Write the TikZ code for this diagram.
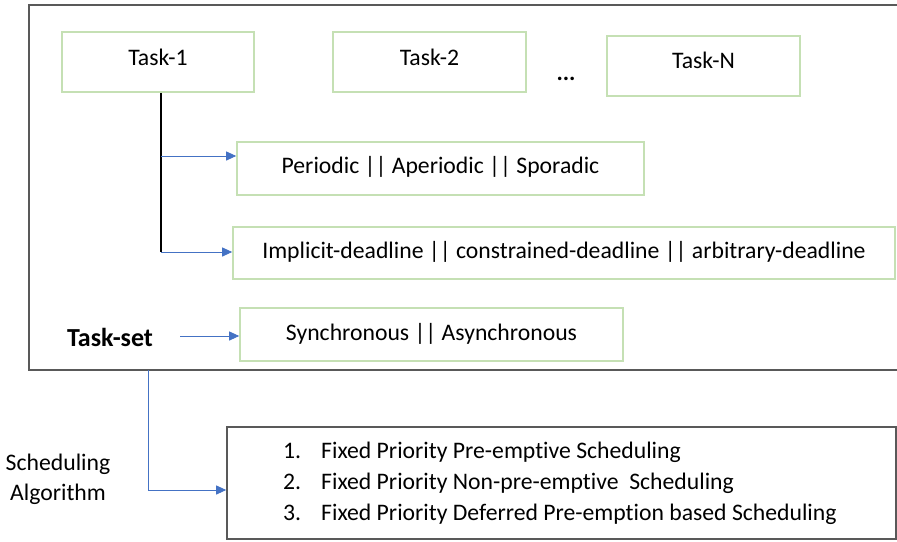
\documentclass[tikz,border=0pt]{standalone}
\usepackage{fontspec}
\setmainfont{Carlito}[Ligatures=NoCommon]
\usetikzlibrary{arrows.meta}
\definecolor{boxgreen}{HTML}{C5E0B4}
\definecolor{frame}{HTML}{595959}
\definecolor{arrblue}{HTML}{4472C4}
\tikzset{
  gbox/.style={draw=boxgreen, line width=1.6pt, inner sep=0pt},
  blarrow/.style={draw=arrblue, line width=0.9pt, -{Triangle[length=10pt,width=9pt]}},
  txt/.style={inner sep=0pt, anchor=base, font=\fontsize{23.7}{28}\selectfont}
}
\begin{document}
\begin{tikzpicture}[x=1pt,y=-1pt]
\useasboundingbox (0,0) rectangle (897,541);
% outer frame (right side beyond image edge)
\draw[frame, line width=2pt] (898,5) -- (29,5) -- (29,370) -- (898,370);
% task boxes
\node[gbox, minimum width=192pt, minimum height=60pt] (t1) at (158,62) {};
\node[txt] (t1l) at (158,65) {Task-1};
\node[gbox, minimum width=193pt, minimum height=60pt] (t2) at (429.5,62) {};
\node[txt] (t2l) at (429.5,65) {Task-2};
\node[txt, font=\fontsize{23.7}{28}\selectfont\bfseries] (dots) at (566,80) {...};
\node[gbox, minimum width=193pt, minimum height=60pt] (tn) at (703.5,66) {};
\node[txt] (tnl) at (703.5,68) {Task-N};
% attribute boxes
\node[gbox, minimum width=407pt, minimum height=53pt] (per) at (440.5,168.5) {};
\node[txt] (perl) at (440.5,173) {Periodic || Aperiodic || Sporadic};
\node[gbox, minimum width=662pt, minimum height=52pt] (imp) at (564,253) {};
\node[txt] (impl) at (564,258) {Implicit-deadline || constrained-deadline || arbitrary-deadline};
\node[gbox, minimum width=383pt, minimum height=53pt] (syn) at (431.5,334.5) {};
\node[txt] (synl) at (431.5,340) {Synchronous || Asynchronous};
\node[txt, font=\fontsize{26}{30}\selectfont\bfseries] (ts) at (110,346) {Task-set};
% connectors from Task-1
\coordinate (j1) at (161,156);
\coordinate (j2) at (161,252);
\draw[line width=1.8pt] (t1.south -| j1) -- (j2);
\draw[blarrow] (j1) -- (per.west |- j1);
\draw[blarrow] (j2) -- (imp.west |- j2);
\coordinate (tsa) at (180,336);
\draw[blarrow] (tsa) -- (syn.west |- tsa);
% scheduling box
\node[draw=frame, line width=1.6pt, minimum width=669pt, minimum height=112pt, inner sep=0pt] (sch) at (561.5,483) {};
\node[txt, anchor=base west] (n1) at (283,458) {1.};
\node[txt, anchor=base west] (s1) at (321,458) {Fixed Priority Pre-emptive Scheduling};
\node[txt, anchor=base west] (n2) at (283,489) {2.};
\node[txt, anchor=base west] (s2) at (321,489) {Fixed Priority Non-pre-emptive\ \ Scheduling};
\node[txt, anchor=base west] (n3) at (283,520) {3.};
\node[txt, anchor=base west] (s3) at (321,520) {Fixed Priority Deferred Pre-emption based Scheduling};
\node[txt] (sa1) at (58,470) {Scheduling};
\node[txt] (sa2) at (58,500) {Algorithm};
% connector from task-set frame to scheduling
\coordinate (fb) at (148,370);
\coordinate (fc) at (148,490);
\draw[blarrow] (fb) -- (fc) -- (sch.west |- fc);
\end{tikzpicture}
\end{document}
